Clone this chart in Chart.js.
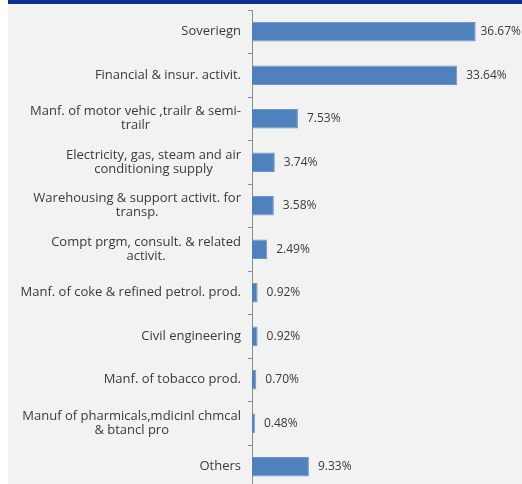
<!DOCTYPE html>
<html>
<head>
<meta charset="utf-8">
<script src="https://cdn.jsdelivr.net/npm/chart.js@4.4.1/dist/chart.umd.min.js"></script>
<style>
  html, body { margin: 0; padding: 0; background: #ffffff; overflow: hidden; }
  #panel { position: absolute; left: 8px; top: 0; width: 514px; height: 490px; background: #f2f2f2; }
  #band { position: absolute; left: 0; top: 0; width: 514px; height: 4px; background: #0b2e8f; }
  #wrap { position: absolute; left: 0; top: 0; width: 514px; height: 490px; }
</style>
</head>
<body>
<div id="panel">
  <div id="wrap"><canvas id="chart" width="514" height="490"></canvas></div>
  <div id="band"></div>
</div>
<script>
// Sector categories (each entry is a list of label lines)
const categories = [
  ["Soveriegn"],
  ["Financial & insur. activit."],
  ["Manf. of motor vehic ,trailr & semi-", "trailr"],
  ["Electricity, gas, steam and air", "conditioning supply"],
  ["Warehousing & support activit. for", "transp."],
  ["Compt prgm, consult. & related", "activit."],
  ["Manf. of coke & refined petrol. prod."],
  ["Civil engineering"],
  ["Manf. of tobacco prod."],
  ["Manuf of pharmicals,mdicinl chmcal", "& btancl pro"],
  ["Others"]
];

// Share of exposure per sector, in percent
const shares = [36.67, 33.64, 7.53, 3.74, 3.58, 2.49, 0.92, 0.92, 0.70, 0.48, 9.33];

const CAT_FONT = '13px "Open Sans", Lato, sans-serif';
const VAL_FONT = '12px "Open Sans", Lato, sans-serif';
const TEXT = '#3a3a3a';

// Draws the wrapped category labels (centred block, right edge near the axis)
// and the percentage labels just past the end of each bar, kept inside the canvas.
const labelPlugin = {
  id: 'labelPlugin',
  afterDatasetsDraw(chart) {
    const ctx = chart.ctx;
    const yScale = chart.scales.y;
    const meta = chart.getDatasetMeta(0);
    const lineH = 14;
    ctx.save();
    ctx.fillStyle = TEXT;
    ctx.textBaseline = 'middle';
    ctx.font = CAT_FONT;
    categories.forEach((lines, i) => {
      const cy = yScale.getPixelForValue(i);
      const widest = Math.max(...lines.map(l => ctx.measureText(l).width));
      const right = chart.chartArea.left - 11;
      const cx = right - widest / 2;
      ctx.textAlign = 'center';
      const y0 = cy - (lines.length - 1) * lineH / 2;
      lines.forEach((l, k) => ctx.fillText(l, cx, y0 + k * lineH));
    });
    ctx.font = VAL_FONT;
    ctx.textAlign = 'left';
    meta.data.forEach((bar, i) => {
      const txt = shares[i].toFixed(2) + '%';
      const w = ctx.measureText(txt).width;
      const x = Math.min(bar.x + 9, chart.width - 1 - w);
      ctx.fillText(txt, x, bar.y);
    });
    ctx.restore();
  }
};

new Chart(document.getElementById('chart'), {
  type: 'bar',
  data: {
    labels: categories,
    datasets: [{
      data: shares,
      backgroundColor: '#4f81bd',
      borderColor: '#6f97c9',
      borderWidth: 1,
      categoryPercentage: 1,
      barPercentage: 0.45
    }]
  },
  options: {
    indexAxis: 'y',
    responsive: false,
    animation: false,
    layout: { padding: { top: 10, right: 26, bottom: 1.5, left: 0 } },
    plugins: { legend: { display: false }, tooltip: { enabled: false } },
    scales: {
      x: { display: false, min: 0, max: 40 },
      y: {
        afterFit(scale) { scale.width = 244; },
        ticks: { display: false },
        border: { display: true, color: '#8c8c8c', width: 1 },
        grid: {
          offset: true,
          drawOnChartArea: false,
          drawTicks: true,
          tickLength: 4,
          color: '#8c8c8c'
        }
      }
    }
  },
  plugins: [labelPlugin]
});
</script>
</body>
</html>
